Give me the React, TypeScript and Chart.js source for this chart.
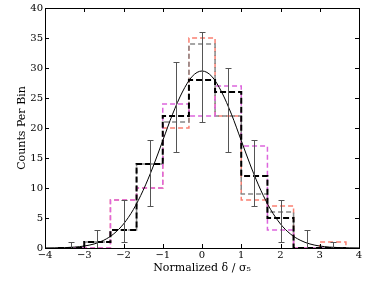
import React, { useEffect, useRef } from "react";
import { Chart, registerables } from "chart.js";

Chart.register(...registerables);

// Histogram bin edges (11 bins of width 2/3)
const binEdges = [-3.667, -3, -2.333, -1.667, -1, -0.333, 0.333, 1, 1.667, 2.333, 3, 3.667];
// Counts per bin for each histogram
const blackCounts = [0, 1, 3, 14, 22, 28, 26, 12, 5, 0, 0];
const magentaCounts = [0, 0, 8, 10, 24, 22, 27, 17, 3, 0, 0];
const grayCounts = [0, 1, 3, 14, 21, 34, 22, 9, 6, 0, 0];
const salmonCounts = [0, 0, 8, 10, 20, 35, 22, 8, 7, 0, 1];

// Error bars at bin centres
const errCenters = [-3.333, -2.667, -2, -1.333, -0.667, 0, 0.667, 1.333, 2, 2.667, 3.333];
const errLow = [0, 0, 1, 7, 16, 21, 16, 7, 1, 0, 0];
const errHigh = [1, 3, 8, 18, 31, 36, 30, 18, 8, 3, 1];

// Fitted curve
const curveX = [-4, -3.75, -3.5, -3.25, -3, -2.75, -2.5, -2.25, -2, -1.75, -1.5, -1.25, -1, -0.75, -0.5, -0.25, 0, 0.25, 0.5, 0.75, 1, 1.25, 1.5, 1.75, 2, 2.25, 2.5, 2.75, 3, 3.25, 3.5, 3.75, 4];
const curveY = [0.01, 0.03, 0.06, 0.15, 0.33, 0.67, 1.3, 2.35, 4.0, 6.4, 9.6, 13.5, 17.9, 22.3, 26.0, 28.6, 29.5, 28.6, 26.0, 22.3, 17.9, 13.5, 9.6, 6.4, 4.0, 2.35, 1.3, 0.67, 0.33, 0.15, 0.06, 0.03, 0.01];

const xTicks = [-4, -3, -2, -1, 0, 1, 2, 3, 4];
const yTicks = [0, 5, 10, 15, 20, 25, 30, 35, 40];

function stepPoints(counts: number[]) {
  const pts: { x: number; y: number }[] = [{ x: binEdges[0], y: 0 }];
  counts.forEach((c, i) => pts.push({ x: binEdges[i], y: c }));
  pts.push({ x: binEdges[binEdges.length - 1], y: 0 });
  return pts;
}

const FONT = "'DejaVu Serif', serif";

const framePlugin = {
  id: "frameTicks",
  afterDatasetsDraw(chart: any) {
    const { ctx, chartArea: a, scales } = chart;
    const xs = scales.x;
    const ys = scales.y;
    ctx.save();
    // error bars
    ctx.strokeStyle = "#555555";
    ctx.lineWidth = 1;
    errCenters.forEach((c, i) => {
      const px = Math.round(xs.getPixelForValue(c)) + 0.5;
      const y1 = ys.getPixelForValue(errLow[i]);
      const y2 = ys.getPixelForValue(errHigh[i]);
      ctx.beginPath();
      ctx.moveTo(px, y1);
      ctx.lineTo(px, y2);
      ctx.moveTo(px - 3, Math.round(y1) + 0.5);
      ctx.lineTo(px + 3, Math.round(y1) + 0.5);
      ctx.moveTo(px - 3, Math.round(y2) + 0.5);
      ctx.lineTo(px + 3, Math.round(y2) + 0.5);
      ctx.stroke();
    });
    // frame
    ctx.strokeStyle = "#000000";
    ctx.lineWidth = 1;
    ctx.strokeRect(Math.round(a.left) + 0.5, Math.round(a.top) + 0.5, Math.round(a.right - a.left), Math.round(a.bottom - a.top));
    // inward ticks
    ctx.beginPath();
    xTicks.forEach((t) => {
      const px = Math.round(xs.getPixelForValue(t)) + 0.5;
      ctx.moveTo(px, a.bottom);
      ctx.lineTo(px, a.bottom - 4);
      ctx.moveTo(px, a.top);
      ctx.lineTo(px, a.top + 4);
    });
    yTicks.forEach((t) => {
      const py = Math.round(ys.getPixelForValue(t)) + 0.5;
      ctx.moveTo(a.left, py);
      ctx.lineTo(a.left + 4, py);
      ctx.moveTo(a.right, py);
      ctx.lineTo(a.right - 4, py);
    });
    ctx.stroke();
    ctx.restore();
  },
};

export default function App() {
  const ref = useRef<HTMLCanvasElement | null>(null);
  useEffect(() => {
    if (!ref.current) return;
    const dash = [5, 3];
    const chart = new Chart(ref.current, {
      type: "line",
      data: {
        datasets: [
          {
            label: "fit",
            data: curveX.map((x, i) => ({ x, y: curveY[i] })),
            borderColor: "#000000",
            borderWidth: 1,
            pointRadius: 0,
            cubicInterpolationMode: "monotone",
          },
          {
            label: "black",
            data: stepPoints(blackCounts),
            borderColor: "#000000",
            borderWidth: 2,
            borderDash: [6, 3],
            pointRadius: 0,
            stepped: "before",
          },
          {
            label: "magenta",
            data: stepPoints(magentaCounts),
            borderColor: "#dd66dd",
            borderWidth: 1.5,
            borderDash: dash,
            pointRadius: 0,
            stepped: "before",
          },
          {
            label: "gray",
            data: stepPoints(grayCounts),
            borderColor: "#888888",
            borderWidth: 1.5,
            borderDash: dash,
            pointRadius: 0,
            stepped: "before",
          },
          {
            label: "salmon",
            data: stepPoints(salmonCounts),
            borderColor: "#fa8072",
            borderWidth: 1.5,
            borderDash: dash,
            pointRadius: 0,
            stepped: "before",
          },
        ],
      } as any,
      options: {
        animation: false,
        responsive: false,
        layout: { padding: { left: 0, right: 15, top: 8, bottom: 0 } },
        plugins: { legend: { display: false }, tooltip: { enabled: false } },
        scales: {
          x: {
            type: "linear",
            min: -4,
            max: 4,
            afterFit: (s: any) => {
              s.height = 34;
            },
            afterBuildTicks: (s: any) => {
              s.ticks = xTicks.map((v) => ({ value: v }));
            },
            grid: { display: false, drawTicks: false },
            border: { display: false },
            ticks: {
              padding: 1,
              color: "#000000",
              font: { family: FONT, size: 10 },
              callback: (v: any) => String(v).replace("-", "\u2212"),
            },
            title: {
              display: true,
              text: "Normalized δ / σ₅",
              color: "#000000",
              font: { family: FONT, size: 11 },
              padding: { top: 0, bottom: 7 },
            },
          },
          y: {
            type: "linear",
            min: 0,
            max: 40,
            afterFit: (s: any) => {
              s.width = 45;
            },
            afterBuildTicks: (s: any) => {
              s.ticks = yTicks.map((v) => ({ value: v }));
            },
            grid: { display: false, drawTicks: false },
            border: { display: false },
            ticks: {
              padding: 2,
              color: "#000000",
              font: { family: FONT, size: 10 },
            },
            title: {
              display: true,
              text: "Counts Per Bin",
              color: "#000000",
              font: { family: FONT, size: 11 },
              padding: { top: 16, bottom: 0 },
            },
          },
        },
      } as any,
      plugins: [framePlugin],
    });
    return () => chart.destroy();
  }, []);
  return (
    <div style={{ position: "absolute", left: 0, top: 0, width: 374, height: 282 }}>
      <canvas ref={ref} width={374} height={282} style={{ width: 374, height: 282 }} />
    </div>
  );
}
